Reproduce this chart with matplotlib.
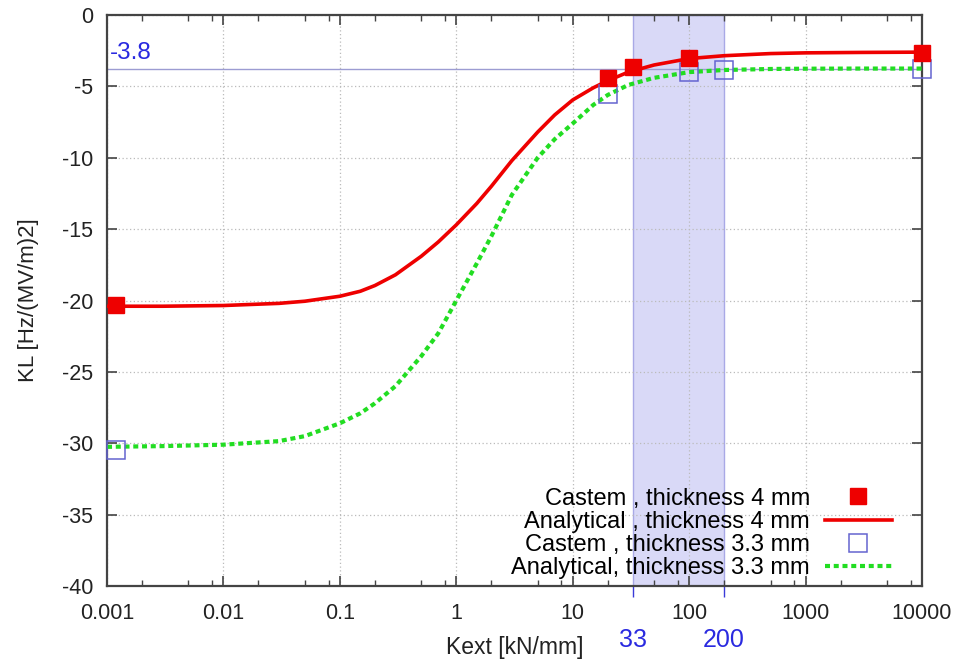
import numpy as np
import matplotlib
matplotlib.use("Agg")
import matplotlib.pyplot as plt
from matplotlib.ticker import FixedLocator, FuncFormatter, LogLocator, NullFormatter

plt.rcParams['font.family'] = ['Liberation Sans', 'DejaVu Sans']
plt.rcParams['axes.unicode_minus'] = False

# analytical curves, KL vs Kext
k_curve = [0.001, 0.003, 0.01, 0.03, 0.05, 0.1, 0.15, 0.2, 0.3, 0.5, 0.7, 1, 1.5, 2, 3, 5, 7,
           10, 15, 20, 30, 50, 100, 200, 500, 1000, 3000, 10000]
kl_analytic_4mm = [-20.4, -20.4, -20.35, -20.2, -20.05, -19.7, -19.35, -18.95, -18.2, -16.9,
                   -15.9, -14.7, -13.2, -12.0, -10.2, -8.2, -7.0, -5.95, -5.1, -4.6, -4.0,
                   -3.5, -3.05, -2.85, -2.7, -2.65, -2.62, -2.6]
kl_analytic_33mm = [-30.25, -30.2, -30.1, -29.85, -29.5, -28.6, -27.9, -27.2, -26.0, -23.9,
                    -22.3, -20.0, -17.4, -15.5, -12.6, -10.0, -8.7, -7.6, -6.3, -5.6, -4.9,
                    -4.4, -4.0, -3.85, -3.78, -3.76, -3.75, -3.75]

# Castem FE results
k_castem_4mm = [0.0012, 20, 33, 100, 10000]
kl_castem_4mm = [-20.3, -4.4, -3.65, -3.0, -2.67]
k_castem_33mm = [0.0012, 20, 100, 200, 10000]
kl_castem_33mm = [-30.5, -5.5, -4.0, -3.85, -3.75]

kl_ref = -3.8
k_band = [33, 200]
x_ticks = [0.001, 0.01, 0.1, 1, 10, 100, 1000, 10000]
y_ticks = [0, -5, -10, -15, -20, -25, -30, -35, -40]

fig = plt.figure(figsize=(9.59, 6.62), dpi=100)
ax = fig.add_axes([0.1116, 0.1148, 0.8498, 0.8625])

ax.axvspan(k_band[0], k_band[1], facecolor='#d9d9f7', edgecolor='#a9a9e6', lw=1.0, zorder=0)
ax.axhline(kl_ref, color='#9c9cd2', lw=1.0, zorder=1)
ax.text(0.00106, kl_ref + 0.35, '%g' % kl_ref, color='#2a2ae0', fontsize=17.5, va='bottom', ha='left')

ax.plot(k_castem_4mm, kl_castem_4mm, 's', color='#ee0000', ms=12, ls='none',
        label='Castem , thickness 4 mm', zorder=5, clip_on=False)
ax.plot(k_curve, kl_analytic_4mm, '-', color='#ee0000', lw=2.6,
        label='Analytical , thickness 4 mm', zorder=3)
ax.plot(k_castem_33mm, kl_castem_33mm, 's', mfc='none', mec='#6464d0', mew=1.1, ms=13,
        ls='none', label='Castem , thickness 3.3 mm', zorder=4, clip_on=False)
ax.plot(k_curve, kl_analytic_33mm, color='#22dd22', lw=3.0, ls=(0, (1.2, 0.9)),
        label='Analytical, thickness 3.3 mm', zorder=3)

ax.set_xscale('log')
ax.set_xlim(0.001, 10000)
ax.set_ylim(-40, 0)
ax.xaxis.set_major_locator(FixedLocator(x_ticks))
ax.xaxis.set_major_formatter(FuncFormatter(lambda v, p: '%g' % v))
ax.xaxis.set_minor_locator(LogLocator(base=10, subs=(2, 5, 8), numticks=20))
ax.xaxis.set_minor_formatter(NullFormatter())
ax.set_yticks(y_ticks)

ax.tick_params(which='both', direction='in', top=True, right=True, colors='#444444',
               labelcolor='#222222', labelsize=15.5)
ax.tick_params(which='major', length=7, width=1.2, pad=10)
ax.tick_params(axis='x', which='major', pad=12)
ax.tick_params(which='minor', length=4, width=1.0)
for s in ax.spines.values():
    s.set_color('#444444')
    s.set_linewidth(1.6)
ax.grid(True, which='major', color='#bbbbbb', ls=(0, (1, 2)), lw=0.9)

# band limits marked below the axis
sec = ax.secondary_xaxis('bottom')
sec.set_xticks(k_band)
sec.xaxis.set_major_formatter(FuncFormatter(lambda v, p: '%g' % v))
sec.xaxis.set_minor_locator(FixedLocator([]))
sec.tick_params(direction='out', length=8, width=1.0, colors='#3a3ad8', labelcolor='#2a2ae0',
                labelsize=18, pad=22)
sec.spines['bottom'].set_visible(False)

ax.set_xlabel('Kext [kN/mm]', fontsize=16.5, color='#222222')
ax.xaxis.set_label_coords(0.5, -0.087)
ax.set_ylabel('KL [Hz/(MV/m)2]', fontsize=16, color='#222222')
ax.yaxis.set_label_coords(-0.083, 0.5)

leg = ax.legend(loc='lower right', bbox_to_anchor=(0.963, 0.012), frameon=False,
                markerfirst=False, fontsize=17, handlelength=2.83, labelspacing=0.05,
                borderaxespad=0, handletextpad=0.64, borderpad=0)
for col in leg._legend_box._children[-1]._children:
    col.align = 'right'

fig.savefig('out.png', dpi=100)
